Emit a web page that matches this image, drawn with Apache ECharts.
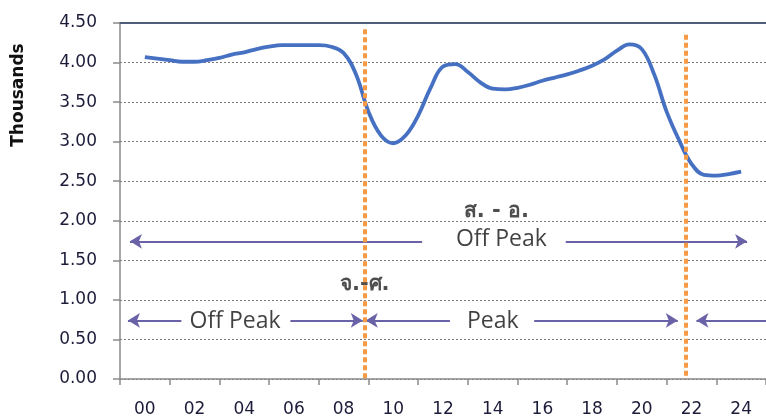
<!DOCTYPE html>
<html>
<head>
<meta charset="utf-8">
<script src="https://cdn.jsdelivr.net/npm/echarts/dist/echarts.min.js"></script>
<style>
html, body { margin: 0; padding: 0; background: #fff; }
#load-chart-box { width: 766px; height: 419px; }
</style>
</head>
<body>
<div id="load-chart-box"></div>
<script>
// x axis labels (every 2 hours)
var hourLabels = ['00', '02', '04', '06', '08', '10', '12', '14', '16', '18', '20', '22', '24'];
// load curve, read every half hour off the picture (thousands)
var hours = [0, 0.5, 1, 1.5, 2, 2.5, 3, 3.5, 4, 4.5, 5, 5.5, 6, 6.5, 7, 7.5, 8, 8.5, 9, 9.5,
    10, 10.5, 11, 11.5, 12, 12.5, 13, 13.5, 14, 14.5, 15, 15.5, 16, 16.5, 17, 17.5, 18, 18.5, 19, 19.5,
    20, 20.5, 21, 21.5, 22, 22.5, 23, 23.5, 24];
var loadValues = [4.07, 4.05, 4.03, 4.01, 4.01, 4.03, 4.06, 4.10, 4.13, 4.17, 4.20, 4.22, 4.22, 4.22, 4.22, 4.20, 4.12, 3.85, 3.38, 3.08,
    2.98, 3.08, 3.33, 3.68, 3.95, 3.98, 3.88, 3.75, 3.67, 3.66, 3.68, 3.72, 3.77, 3.81, 3.85, 3.90, 3.96, 4.04, 4.15, 4.23,
    4.17, 3.85, 3.38, 3.02, 2.72, 2.58, 2.57, 2.59, 2.62];

// peak switch times (orange dotted lines)
var switchHours = [8.85, 21.75];
var switchTops = [4.42, 4.35];

// arrows: tail hour, tip hour, level
var arrowTails = [11.16, 16.94, 1.47, 5.86, 12.28, 15.67, 25];
var arrowTips = [-0.6, 24.24, -0.68, 8.77, 8.89, 21.45, 22.2];
var arrowLevels = [1.74, 1.74, 0.74, 0.74, 0.74, 0.74, 0.74];

// text notes
var noteTexts = ['ส. - อ.', 'Off Peak', 'จ.-ศ.', 'Off Peak', 'Peak'];
var noteHours = [14.15, 14.35, 8.85, 3.63, 14.0];
var noteValues = [2.12, 1.76, 1.19, 0.73, 0.73];
var noteBold = [true, false, true, false, false];

var linePoints = hours.map(function (h, i) { return [h, loadValues[i]]; });

var arrowData = arrowTails.map(function (t, i) {
    return [
        { coord: [t, arrowLevels[i]], symbol: 'none' },
        { coord: [arrowTips[i], arrowLevels[i]], symbol: 'arrow' }
    ];
});

var switchData = switchHours.map(function (h, i) {
    return [{ coord: [h, switchTops[i]] }, { coord: [h, 0] }];
});

var noteData = noteTexts.map(function (t, i) {
    return {
        value: [noteHours[i], noteValues[i]],
        name: t,
        label: noteBold[i] ? {
            fontFamily: 'DejaVu Sans',
            fontWeight: 'bold',
            fontSize: 21,
            color: '#222'
        } : {
            fontFamily: 'Open Sans',
            fontSize: 23,
            color: '#111'
        }
    };
});

var option = {
    animation: false,
    grid: {
        left: 120,
        right: -6,
        top: 23,
        bottom: 40
    },
    graphic: [{
        type: 'text',
        x: 19,
        y: 95,
        rotation: Math.PI / 2,
        style: {
            text: 'Thousands',
            fontFamily: 'DejaVu Sans',
            fontWeight: 'bold',
            fontSize: 17,
            fill: '#111',
            align: 'center',
            verticalAlign: 'middle'
        }
    }],
    xAxis: [{
        type: 'category',
        position: 'bottom',
        boundaryGap: true,
        data: hourLabels,
        axisLine: { lineStyle: { color: '#8a8a8a', width: 1.5 } },
        axisTick: { show: true, length: 6, lineStyle: { color: '#8a8a8a', width: 1.5 } },
        axisLabel: {
            interval: 0,
            margin: 22,
            fontFamily: 'DejaVu Sans',
            fontSize: 17,
            color: '#1c1c3a'
        },
        splitLine: { show: false }
    }, {
        type: 'value',
        position: 'top',
        min: -1,
        max: 25,
        axisLine: { show: true, onZero: false, lineStyle: { color: '#4e5d78', width: 2 } },
        axisTick: { show: false },
        axisLabel: { show: false },
        splitLine: { show: false }
    }],
    yAxis: {
        type: 'value',
        min: 0,
        max: 4.5,
        interval: 0.5,
        axisLine: { show: true, onZero: false, lineStyle: { color: '#8a8a8a', width: 1.5 } },
        axisTick: { show: true, length: 7, lineStyle: { color: '#8a8a8a', width: 1.5 } },
        axisLabel: {
            margin: 23,
            fontFamily: 'DejaVu Sans',
            fontSize: 17,
            color: '#1c1c3a',
            formatter: function (v) { return v.toFixed(2); }
        },
        splitLine: {
            show: true,
            lineStyle: { color: '#7a7a7a', width: 1, type: [2, 2] }
        }
    },
    series: [{
        name: 'load',
        type: 'line',
        xAxisIndex: 1,
        smooth: 0.4,
        symbol: 'none',
        z: 2,
        lineStyle: { color: '#4670c2', width: 3.8 },
        data: linePoints
    }, {
        name: 'arrows',
        type: 'line',
        xAxisIndex: 1,
        data: [],
        z: 3,
        markLine: {
            silent: true,
            symbolSize: [11, 12],
            label: { show: false },
            lineStyle: { color: '#6a62a6', width: 1.8, type: 'solid' },
            data: arrowData
        }
    }, {
        name: 'notes',
        type: 'scatter',
        xAxisIndex: 1,
        symbolSize: 1,
        itemStyle: { color: 'rgba(0,0,0,0)' },
        z: 3,
        label: {
            show: true,
            position: 'inside',
            formatter: '{b}'
        },
        data: noteData
    }, {
        name: 'switch',
        type: 'line',
        xAxisIndex: 1,
        data: [],
        z: 5,
        markLine: {
            silent: true,
            symbol: 'none',
            label: { show: false },
            lineStyle: { color: '#f59a45', width: 4, type: [5, 3] },
            data: switchData
        }
    }]
};

var myChart = echarts.init(document.getElementById('load-chart-box'));
myChart.setOption(option);
</script>
</body>
</html>
